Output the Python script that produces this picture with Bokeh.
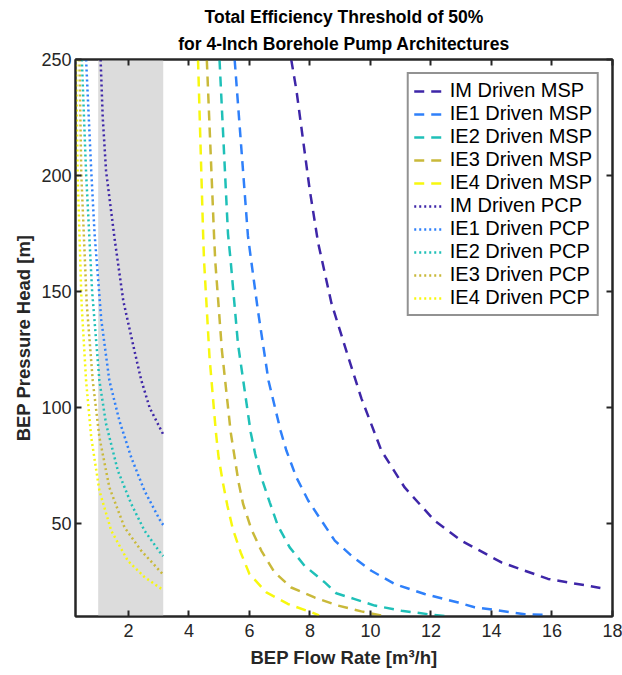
from bokeh.plotting import figure
from bokeh.models import (Range1d, FixedTicker, LinearAxis, Title, BoxAnnotation,
                          Legend, LegendItem)
from bokeh.embed import file_html
from bokeh.resources import INLINE

# ---------------- data ----------------
x_ticks = [2, 4, 6, 8, 10, 12, 14, 16, 18]
y_ticks = [50, 100, 150, 200, 250]
shade = [1.0, 3.15]

im_msp_q = [7.38, 7.55, 7.99, 8.27, 8.71, 9.26, 9.70, 10.36, 11.13, 12.12, 13.0, 14.33, 15.87, 17.6]
im_msp_h = [250, 237, 194, 171, 145, 122, 104, 81.5, 65.6, 51.3, 42.7, 33.3, 26.2, 22.3]

ie1_msp_q = [5.51, 5.95, 6.04, 6.28, 6.63, 7.03, 7.22, 7.55, 7.94, 8.38, 8.82, 9.37, 10.03, 10.80, 11.79, 12.9, 13.44, 14.11, 15.1, 15.9]
ie1_msp_h = [250, 174, 165, 141.8, 111.6, 90, 81.5, 70, 60, 51.3, 42.7, 36.2, 29.7, 24, 19.7, 16, 14, 12.8, 11, 10.6]

ie2_msp_q = [5.01, 5.29, 5.38, 5.62, 6.04, 6.19, 6.39, 6.67, 6.94, 7.33, 7.82, 8.49, 8.87, 9.48, 10.14, 11.02, 11.9, 12.6]
ie2_msp_h = [250, 175, 163, 127.5, 89.4, 80, 70, 59.2, 49.1, 39.8, 31.9, 24.7, 20, 17.5, 14.7, 12.5, 11, 10]

ie3_msp_q = [4.59, 4.83, 4.87, 5.09, 5.38, 5.51, 5.64, 5.79, 6.06, 6.39, 6.83, 7.38, 8.15, 8.93, 9.70, 10.4]
ie3_msp_h = [250, 174, 163, 124.6, 89.4, 78.6, 67.8, 58.5, 47.7, 38.4, 29, 22.5, 18.2, 14.7, 12.2, 10.3]

ie4_msp_q = [4.30, 4.47, 4.50, 4.68, 4.89, 4.98, 5.12, 5.27, 5.45, 5.71, 6.0, 6.56, 7.27, 8.05, 8.3]
ie4_msp_h = [250, 174, 163, 121.7, 89.4, 78.6, 67.8, 57.8, 47.7, 37.6, 28.3, 20.4, 15.4, 11.8, 10.5]

im_pcp_q = [1.08, 1.15, 1.26, 1.54, 1.83, 2.19, 2.42, 2.70, 3.14]
im_pcp_h = [250, 225, 202, 173, 146, 125, 112, 100, 88.7]

ie1_pcp_q = [0.60, 0.77, 0.88, 1.10, 1.37, 1.70, 2.09, 2.53, 3.08, 3.15]
ie1_pcp_h = [250, 202, 175, 138, 111.6, 94.4, 78.6, 64.2, 50.6, 49.5]

ie2_pcp_q = [0.46, 0.60, 0.80, 1.04, 1.26, 1.65, 2.09, 2.53, 3.08, 3.15]
ie2_pcp_h = [250, 201, 150, 111.6, 93, 72.8, 58.6, 47, 37, 36]

ie3_pcp_q = [0.38, 0.44, 0.62, 0.82, 1.04, 1.37, 1.87, 2.42, 3.08, 3.15]
ie3_pcp_h = [250, 201, 145, 111.6, 87.2, 65.6, 48.4, 38.4, 29, 28.3]

ie4_pcp_q = [0.27, 0.32, 0.45, 0.60, 0.77, 1.04, 1.43, 1.98, 2.53, 3.08, 3.15]
ie4_pcp_h = [250, 201, 145, 111.6, 87.2, 64.2, 47, 34, 27, 22, 21.5]

labels = ["IM Driven MSP", "IE1 Driven MSP", "IE2 Driven MSP", "IE3 Driven MSP", "IE4 Driven MSP",
          "IM Driven PCP", "IE1 Driven PCP", "IE2 Driven PCP", "IE3 Driven PCP", "IE4 Driven PCP"]
colors = ["#3e26a8", "#2f80fa", "#1fc0b8", "#c9b93a", "#f7f80e"]

msp = [(im_msp_q, im_msp_h), (ie1_msp_q, ie1_msp_h), (ie2_msp_q, ie2_msp_h),
       (ie3_msp_q, ie3_msp_h), (ie4_msp_q, ie4_msp_h)]
pcp = [(im_pcp_q, im_pcp_h), (ie1_pcp_q, ie1_pcp_h), (ie2_pcp_q, ie2_pcp_h),
       (ie3_pcp_q, ie3_pcp_h), (ie4_pcp_q, ie4_pcp_h)]

FONT = "Liberation Sans"
INK = "#262626"

p = figure(width=622, height=675, output_backend="svg", toolbar_location=None,
           x_range=Range1d(0.25, 18), y_range=Range1d(10, 250),
           min_border_left=75, min_border_right=10, min_border_top=59, min_border_bottom=59)
p.background_fill_color = "white"
p.border_fill_color = "white"
p.grid.visible = False
p.outline_line_color = INK
p.outline_line_width = 2

p.add_layout(BoxAnnotation(left=shade[0], right=shade[1], fill_color="#dcdcdc",
                           fill_alpha=1.0, line_color=None, level="underlay"))

renderers = []
for (q, h), c in zip(msp, colors):
    r = p.line(q, h, line_color=c, line_width=2.5, line_dash="10 7")
    renderers.append(r)
for (q, h), c in zip(pcp, colors):
    r = p.line(q, h, line_color=c, line_width=2.5, line_dash="2 3")
    renderers.append(r)

def style_axis(ax, show_labels=True):
    ax.axis_line_color = INK
    ax.axis_line_width = 2
    ax.major_tick_line_color = INK
    ax.major_tick_line_width = 2
    ax.major_tick_in = 6
    ax.major_tick_out = 0
    ax.minor_tick_line_color = None
    ax.major_label_text_font = FONT
    ax.major_label_text_font_size = "18px"
    ax.major_label_text_color = INK if show_labels else None
    ax.axis_label_text_font = FONT
    ax.axis_label_text_font_style = "bold"
    ax.axis_label_text_font_size = "18.5px"
    ax.axis_label_text_color = INK

p.xaxis.ticker = FixedTicker(ticks=x_ticks)
p.yaxis.ticker = FixedTicker(ticks=y_ticks)
p.xaxis.axis_label = "BEP Flow Rate [m³/h]"
p.yaxis.axis_label = "BEP Pressure Head [m]"
style_axis(p.xaxis[0])
style_axis(p.yaxis[0])
p.xaxis.major_label_standoff = 7
p.yaxis.major_label_standoff = 4
p.xaxis.axis_label_standoff = 7
p.yaxis.axis_label_standoff = 4

ax_top = LinearAxis(ticker=FixedTicker(ticks=x_ticks), major_label_standoff=0)
style_axis(ax_top, False)
ax_top.major_label_text_font_size = "1px"
p.add_layout(ax_top, "above")
ax_right = LinearAxis(ticker=FixedTicker(ticks=y_ticks), major_label_standoff=0)
style_axis(ax_right, False)
ax_right.major_label_text_font_size = "1px"
p.add_layout(ax_right, "right")

p.add_layout(Title(text="for 4-Inch Borehole Pump Architectures", align="center",
                   text_font=FONT, text_font_size="17.5px", text_font_style="bold",
                   text_color="black", standoff=12, offset=0), "above")
p.add_layout(Title(text="Total Efficiency Threshold of 50%", align="center",
                   text_font=FONT, text_font_size="17.5px", text_font_style="bold",
                   text_color="black", standoff=-2, offset=0), "above")

legend = Legend(items=[LegendItem(label=l, renderers=[r]) for l, r in zip(labels, renderers)],
                location="top_right")
legend.label_text_font = FONT
legend.label_text_font_size = "20px"
legend.label_text_color = "black"
legend.glyph_width = 30
legend.glyph_height = 20
legend.label_height = 20
legend.label_standoff = 6
legend.spacing = 0
legend.padding = 5
legend.margin = 13
legend.border_line_color = INK
legend.border_line_width = 2
legend.background_fill_alpha = 1.0
p.add_layout(legend)

open("out.html", "w").write(file_html(p, INLINE))
